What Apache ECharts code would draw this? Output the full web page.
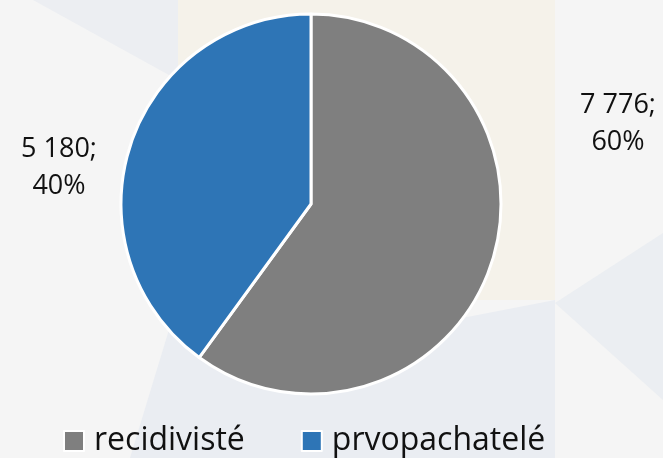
<!DOCTYPE html>
<html>
<head>
<meta charset="utf-8">
<script src="https://cdn.jsdelivr.net/npm/echarts@6/dist/echarts.min.js"></script>
<style>
html,body{margin:0;padding:0;background:#f5f5f5;}
#c{width:663px;height:458px;}
</style>
</head>
<body>
<div id="c"></div>
<script>
var categories = ['recidivisté', 'prvopachatelé'];
var values = [7776, 5180];
var colors = ['#7f7f7f', '#2e75b6'];

function fmtNum(v) {
  return String(v).replace(/\B(?=(\d{3})+(?!\d))/g, ' ');
}

var chart = echarts.init(document.getElementById('c'), null, {renderer: 'canvas'});
var labelPos = [[618, 124], [59, 168]];

chart.setOption({
  animation: false,
  backgroundColor: '#f5f5f5',
  graphic: [
    {type: 'polygon', z: -10, silent: true, shape: {points: [[33,0],[178,0],[178,80]]}, style: {fill: '#eceef2'}},
    {type: 'rect', z: -10, silent: true, shape: {x: 178, y: 0, width: 377, height: 300}, style: {fill: '#f5f2ea'}},
    {type: 'polygon', z: -9, silent: true, shape: {points: [[130,458],[555,458],[555,300],[400,330],[178,300]]}, style: {fill: '#eaedf2'}},
    {type: 'polygon', z: -9, silent: true, shape: {points: [[555,303],[663,233],[663,400]]}, style: {fill: '#ebeef2'}}
  ],
  color: colors,
  legend: {
    left: 63,
    top: 425,
    padding: 0,
    itemWidth: 20,
    itemHeight: 20,
    itemGap: 56,
    icon: 'rect',
    selectedMode: false,
    itemStyle: {borderColor: '#ffffff', borderWidth: 2},
    textStyle: {fontFamily: 'Open Sans', fontSize: 32, color: '#111', padding: [0,0,0,5]},
    data: categories
  },
  series: [{
    type: 'pie',
    center: [311, 204],
    radius: 190,
    startAngle: 90,
    clockwise: true,
    silent: true,
    emphasis: {disabled: true},
    itemStyle: {borderColor: '#ffffff', borderWidth: 3},
    labelLine: {show: false},
    label: {
      show: true,
      position: 'outside',
      overflow: 'none',
      fontFamily: 'Open Sans',
      fontSize: 27,
      lineHeight: 37,
      color: '#111',
      align: 'center',
      formatter: function (p) {
        return fmtNum(p.value) + ';\n' + Math.round(p.percent) + '%';
      }
    },
    labelLayout: function (p) {
      var pos = labelPos[p.dataIndex];
      return {x: pos[0], y: pos[1], align: 'center', verticalAlign: 'middle'};
    },
    data: categories.map(function (c, i) { return {name: c, value: values[i]}; })
  }]
});
</script>
</body>
</html>
